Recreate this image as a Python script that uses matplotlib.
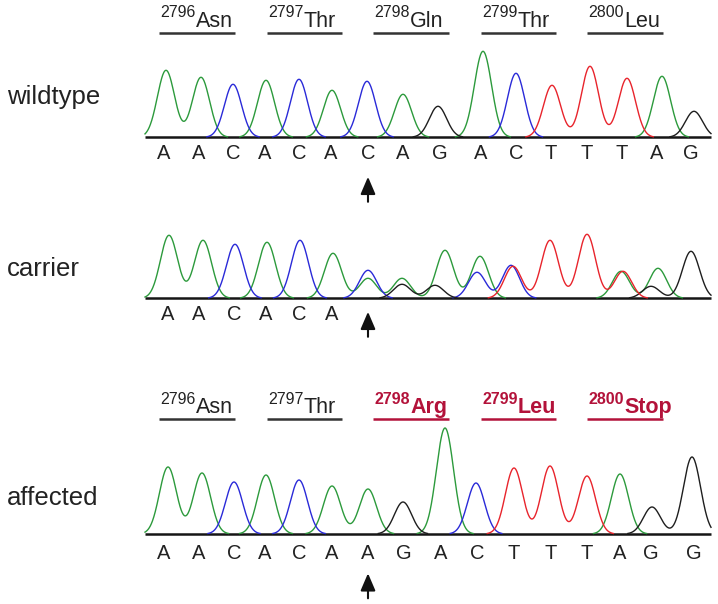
import numpy as np
import matplotlib.pyplot as plt

plt.rcParams['font.family'] = ['Liberation Sans', 'DejaVu Sans']

# --- data (scan position, peak height) ---
SCAN_START, SCAN_END = 145, 711

wt_A_pos = [166, 201, 266, 332, 403, 483, 662]
wt_A_h = [67, 60, 57, 47, 43, 86, 61]
wt_C_pos = [233, 299, 367, 516]
wt_C_h = [53, 58, 56, 64]
wt_G_pos = [438, 694]
wt_G_h = [31, 26]
wt_T_pos = [552, 590, 627]
wt_T_h = [52, 71, 59]

car_A_pos = [169, 203, 267, 333, 368, 402, 445, 480, 621, 658]
car_A_h = [63, 58, 56, 45, 20, 20, 48, 42, 27, 30]
car_C_pos = [235, 300, 368, 477, 511]
car_C_h = [54, 58, 28, 26, 33]
car_G_pos = [402, 435, 651, 691]
car_G_h = [14, 13, 12, 47]
car_T_pos = [513, 550, 587, 623]
car_T_h = [32, 58, 64, 27]

aff_A_pos = [168, 202, 266, 332, 368, 445, 620]
aff_A_h = [67, 61, 59, 48, 45, 106, 60]
aff_C_pos = [234, 299, 476]
aff_C_h = [52, 54, 51]
aff_G_pos = [403, 652, 692]
aff_G_h = [32, 27, 77]
aff_T_pos = [514, 550, 587]
aff_T_h = [66, 68, 58]

wt_bases = list("AACACACAGACTTTAG")
wt_base_x = [164, 199, 233, 265, 299, 331, 368, 403, 440, 481, 516, 551, 587, 622, 657, 691]
car_bases = list("AACACA")
car_base_x = [168, 199, 234, 266, 299, 332]
aff_bases = list("AACACAAGACTTTAGG")
aff_base_x = [164, 199, 234, 265, 299, 332, 368, 404, 441, 477, 514, 551, 587, 620, 651, 694]

codon_nums = ["2796", "2797", "2798", "2799", "2800"]
wt_codons = ["Asn", "Thr", "Gln", "Thr", "Leu"]
aff_codons = ["Asn", "Thr", "Arg", "Leu", "Stop"]
aff_mutated = [False, False, True, True, True]
codon_spans = [(159, 235), (267, 342), (373, 449), (481, 556), (587, 663)]

mutation_x = 368

W, H = 718, 604
COLORS = {'A': '#2c9a3c', 'C': '#2a2ad8', 'G': '#1e1e1e', 'T': '#e8242c'}
MUT_RED = '#b3123a'
INK = '#222222'
SIGMA = 8.6

fig = plt.figure(figsize=(W / 100, H / 100), dpi=100)
scan = np.linspace(SCAN_START, SCAN_END, 1600)


def make_panel(top, bot, base):
    ax = fig.add_axes([0, 1 - bot / H, 1, (bot - top) / H])
    ax.set_xlim(0, W)
    ax.set_ylim(-(bot - base), base - top)
    ax.axis('off')
    return ax


def draw_traces(ax, channels):
    ax.plot([SCAN_START, SCAN_END], [0, 0], color='#151515', lw=1.8,
            solid_capstyle='butt', zorder=1)
    for ch, (pos, hts) in channels.items():
        y = np.zeros_like(scan)
        for p, h in zip(pos, hts):
            y += h * np.exp(-(scan - p) ** 2 / (2 * SIGMA ** 2))
        y[y < 0.5] = np.nan
        ax.plot(scan, y, color=COLORS[ch], lw=1.0, zorder=2)


def draw_bases(ax, bases, xs, y):
    for b, x in zip(bases, xs):
        ax.text(x, y, b, ha='center', va='center', fontsize=14.5, color=INK)


def draw_arrow(ax, tip, tail):
    ax.annotate('', xy=(mutation_x, tip), xytext=(mutation_x, tail),
                arrowprops=dict(arrowstyle='-|>,head_length=1.05,head_width=0.45',
                                mutation_scale=10, color='#111111', lw=1.5,
                                shrinkA=0, shrinkB=0))


def draw_codons(ax, names, bar_y, name_y, mutated=None):
    for i, (num, name) in enumerate(zip(codon_nums, names)):
        hit = mutated[i] if mutated else False
        col = MUT_RED if hit else INK
        weight = 'bold' if hit else 'normal'
        x0, x1 = codon_spans[i]
        ax.plot([x0, x1], [bar_y, bar_y], color=MUT_RED if hit else '#333333',
                lw=1.8, solid_capstyle='butt')
        t = ax.text(x0 + 1.5, name_y + 9.5, num, ha='left', va='baseline',
                    fontsize=11.5, color=col, fontweight=weight)
        ax.annotate(name, xy=(1, name_y), xycoords=(t, 'data'),
                    ha='left', va='baseline', fontsize=15.5, color=col,
                    fontweight=weight)


# wildtype
ax1 = make_panel(0, 210, 137.3)
draw_traces(ax1, {'A': (wt_A_pos, wt_A_h), 'C': (wt_C_pos, wt_C_h),
                  'G': (wt_G_pos, wt_G_h), 'T': (wt_T_pos, wt_T_h)})
draw_bases(ax1, wt_bases, wt_base_x, -16.5)
draw_arrow(ax1, -39.5, -64.5)
draw_codons(ax1, wt_codons, 104.6, 110.6)
ax1.text(7, 33.3, "wildtype", ha='left', va='baseline', fontsize=18.5, color=INK)

# carrier
ax2 = make_panel(210, 350, 298.3)
draw_traces(ax2, {'A': (car_A_pos, car_A_h), 'C': (car_C_pos, car_C_h),
                  'G': (car_G_pos, car_G_h), 'T': (car_T_pos, car_T_h)})
draw_bases(ax2, car_bases, car_base_x, -16.5)
draw_arrow(ax2, -13.5, -38.5)
ax2.text(7, 22.3, "carrier", ha='left', va='baseline', fontsize=18.5, color=INK)

# affected
ax3 = make_panel(350, 604, 534)
draw_traces(ax3, {'A': (aff_A_pos, aff_A_h), 'C': (aff_C_pos, aff_C_h),
                  'G': (aff_G_pos, aff_G_h), 'T': (aff_T_pos, aff_T_h)})
draw_bases(ax3, aff_bases, aff_base_x, -19.3)
draw_arrow(ax3, -39.3, -64.3)
draw_codons(ax3, aff_codons, 115, 120.7, aff_mutated)
ax3.text(7, 29, "affected", ha='left', va='baseline', fontsize=18.5, color=INK)

fig.savefig('out.png', dpi=100, facecolor='white')
